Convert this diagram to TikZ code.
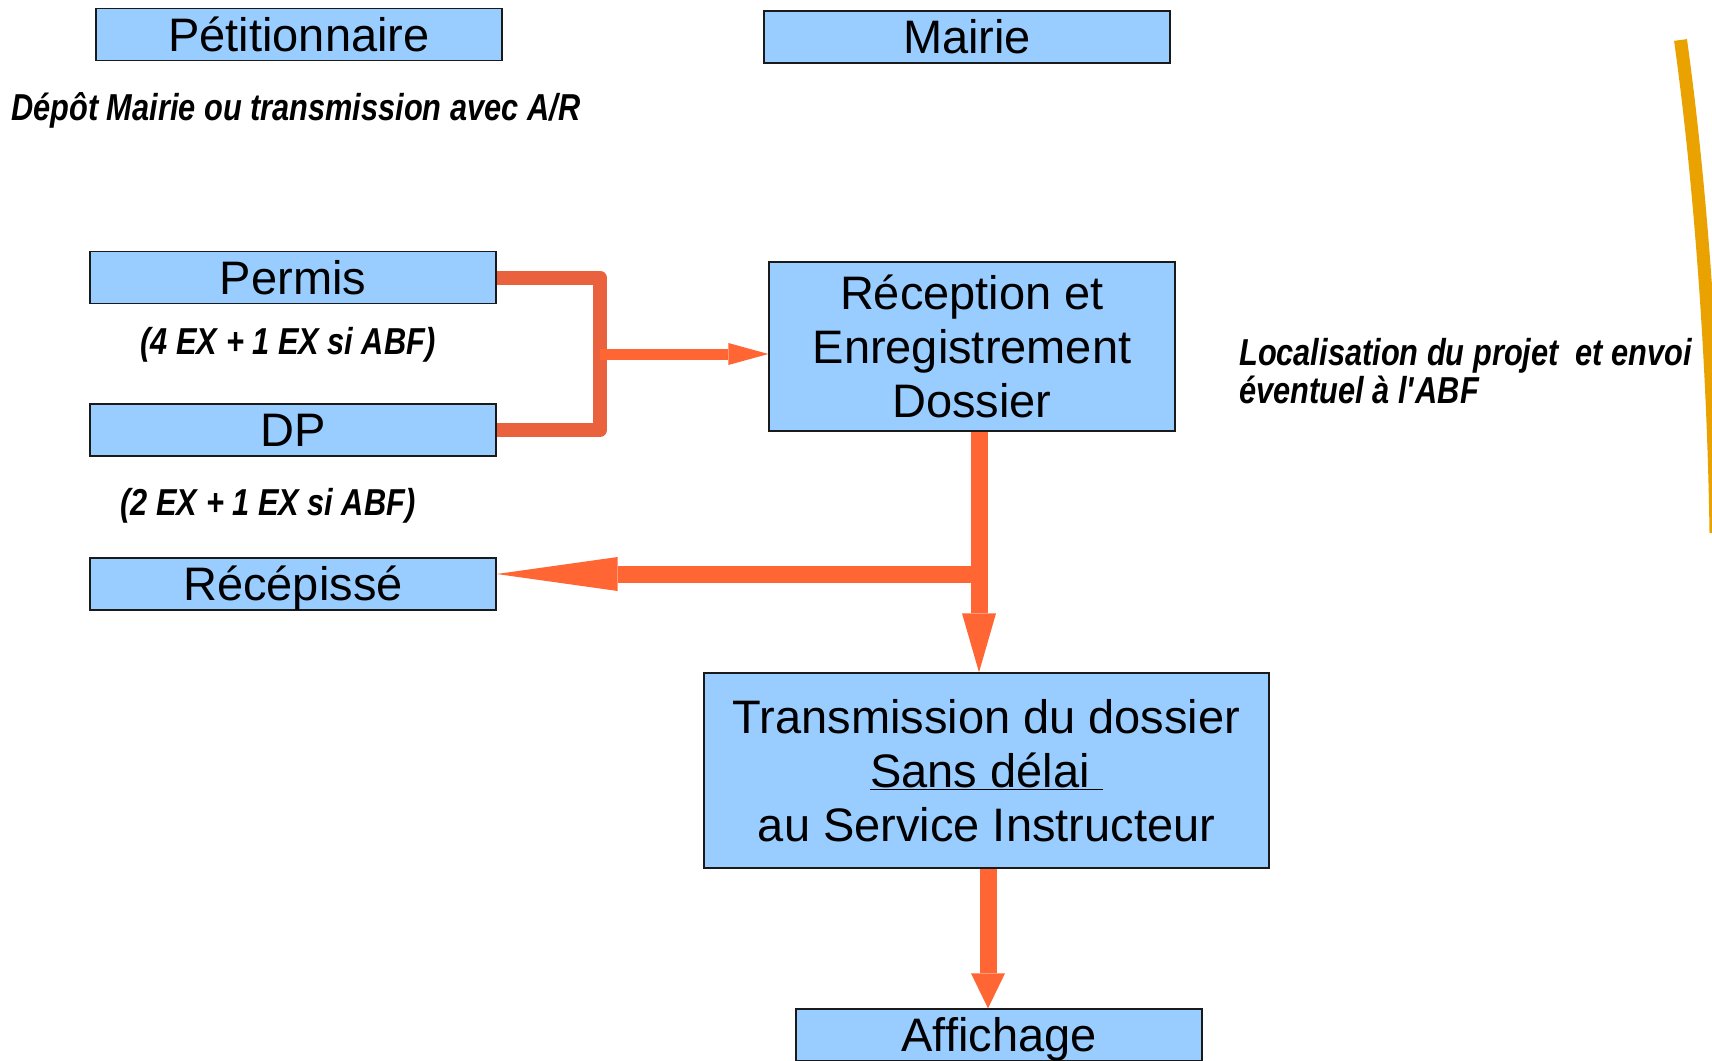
\documentclass[tikz,border=0pt]{standalone}
\usepackage{fontspec}
\setmainfont{Liberation Sans}
\newfontfamily\narrowfont[FakeStretch=0.82]{Liberation Sans}
\usetikzlibrary{arrows.meta}
\definecolor{boxblue}{HTML}{99CCFF}
\definecolor{arrowred}{HTML}{FF6633}
\definecolor{brackred}{HTML}{E9613D}
\definecolor{goldline}{HTML}{E9A200}
\definecolor{boxline}{HTML}{1A1A1A}
\begin{document}
\begin{tikzpicture}[x=1pt,y=-1pt,
  bluebox/.style={draw=boxline, line width=1.3pt, fill=boxblue, inner sep=0pt,
    font=\fontsize{47}{54}\selectfont, text height=33.7pt, text depth=0pt, align=center},
  oneline/.style={bluebox, minimum width=406pt, minimum height=52pt},
  note/.style={inner sep=0pt, font=\narrowfont\bfseries\itshape\fontsize{37.5}{38}\selectfont,
    text height=26.8pt, text depth=0pt},
  flow/.style={draw=arrowred, line width=17pt}]
\useasboundingbox (0,0) rectangle (1712,1060);

\node[oneline] (pet) at (299,34.5) {Pétitionnaire};
\node[oneline] (mai) at (967,37) {Mairie};
\node[note, anchor=west] (depot) at (11,107) {Dépôt Mairie ou transmission avec A/R};
\node[oneline] (permis) at (293,277.5) {Permis};
\node[note] (ex4) at (288,341) {(4 EX + 1 EX si ABF)};
\node[oneline] (dp) at (293,430) {DP};
\node[note] (ex2) at (268,502) {(2 EX + 1 EX si ABF)};
\node[oneline] (rec) at (293,584) {Récépissé};
\node[bluebox, minimum width=406pt, minimum height=169pt, text height=141.7pt] (recep) at (972,346.5)
  {Réception et\\Enregistrement\\Dossier};
\node[note, align=left, anchor=north west, text height=64.8pt] (loc) at (1239,338.6)
  {Localisation du projet\ \ et envoi\\éventuel à l\textquotesingle ABF};
\node[bluebox, minimum width=565pt, minimum height=195pt, text height=141.7pt] (trans) at (986.5,770.5)
  {Transmission du dossier\\\underline{Sans délai\ }\\au Service Instructeur};
\node[oneline] (aff) at (999,1035) {Affichage};

% connectors
\coordinate (bx) at (600,354);
\draw[brackred, line width=14pt, line join=round]
  (permis.east) -- (permis.east -| bx) -- (dp.east -| bx) -- (dp.east);
\draw[arrowred, line width=11pt, -{Triangle[length=40pt,width=22pt,line width=0pt]}] (bx) -- (bx -| recep.west);
\coordinate (dx) at (979,0);
\draw[flow, -{Triangle[length=59pt,width=34pt,line width=0pt]}] (recep.south -| dx) -- (trans.north -| dx);
\coordinate (lx) at (987.5,574);
\draw[flow, -{Triangle[length=121pt,width=34pt,line width=0pt]}] (lx) -- (lx -| rec.east);
\coordinate (ax) at (988,0);
\draw[flow, -{Triangle[length=35pt,width=34pt,line width=0pt]}] (trans.south -| ax) -- (aff.north -| ax);

% right-hand curve
\draw[goldline, line width=13pt] (1680.5,40) .. controls (1696,150) and (1713,330) .. (1716,533);
\end{tikzpicture}
\end{document}
